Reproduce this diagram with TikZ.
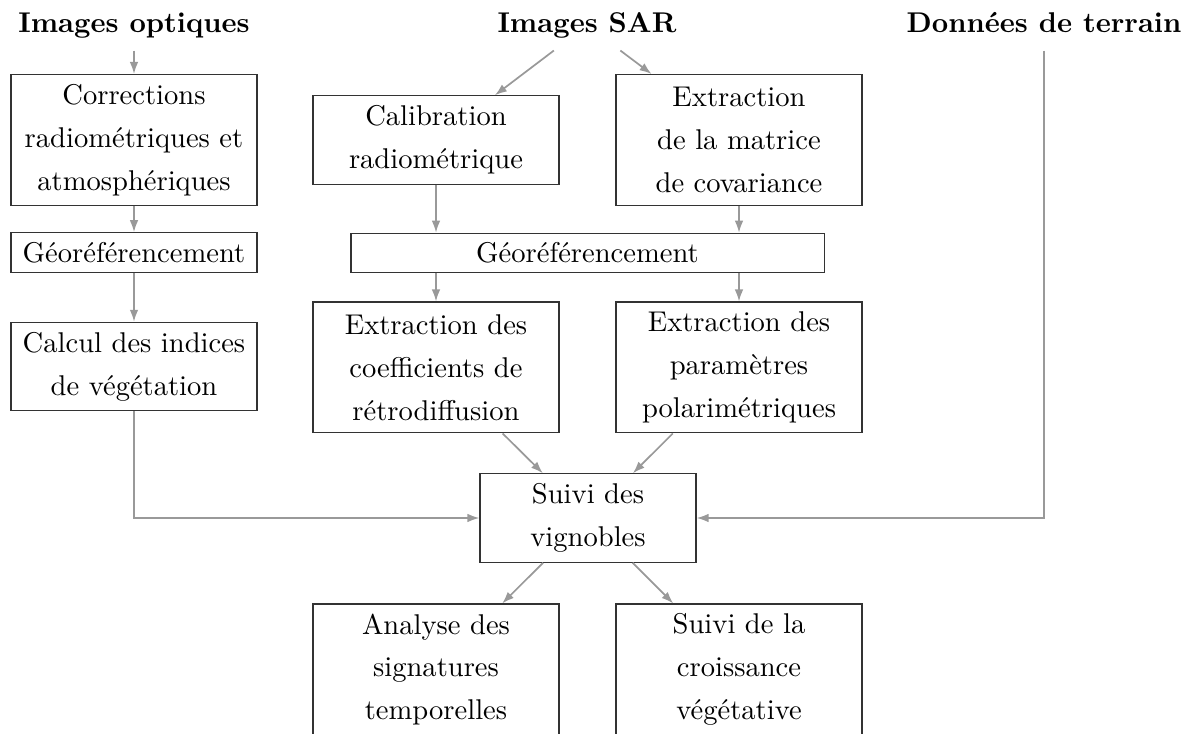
\documentclass[tikz,border=0pt]{standalone}
\usetikzlibrary{arrows.meta}
\definecolor{arrowgray}{gray}{0.6}
\definecolor{boxgray}{gray}{0.2}
\begin{document}
\begin{tikzpicture}[x=0.35pt,y=-0.35pt,
  font=\fontsize{10}{15}\selectfont,
  box/.style={draw=boxgray, line width=0.4pt, align=center, minimum width=86.1pt, inner sep=1pt},
  one/.style={minimum height=13.8pt},
  two/.style={minimum height=30.9pt},
  three/.style={minimum height=45.8pt},
  title/.style={font=\fontsize{10}{15}\selectfont\bfseries, text height=7pt, text depth=2pt, inner xsep=0pt, inner ysep=4.1pt},
  arr/.style={draw=arrowgray, line width=0.6pt, -{Latex[length=4.2pt,width=3pt]}},
]
\useasboundingbox (0,0) rectangle (1189,734);
\node[title] (opt) at (134,25.4) {Images optiques};
\node[title] (sar) at (587,25.4) {Images SAR};
\node[title] (ter) at (1044,25.4) {Données de terrain};
\node[box,three] (corr) at (134,140) {Corrections\\radiométriques et\\atmosphériques};
\node[box,one] (geol) at (134,252.5) {Géoréférencement};
\node[box,two] (calc) at (134,366.5) {Calcul des indices\\de végétation};
\node[box,two] (calib) at (436,140) {Calibration\\radiométrique};
\node[box,three] (mat) at (739,140) {Extraction\\de la matrice\\de covariance};
\node[box,one,minimum width=165.6pt] (geos) at (587.5,253) {Géoréférencement};
\node[box,three] (coef) at (436,367.5) {Extraction des\\coefficients de\\rétrodiffusion};
\node[box,three] (par) at (739,367.5) {Extraction des\\paramètres\\polarimétriques};
\node[box,two,minimum width=75.6pt] (suivi) at (588,518) {Suivi des\\vignobles};
\node[box,three] (ana) at (436,669.5) {Analyse des\\signatures\\temporelles};
\node[box,three] (cro) at (739,669.5) {Suivi de la\\croissance\\végétative};
\draw[arr] (opt) -- (corr);
\draw[arr] (corr) -- (geol);
\draw[arr] (geol) -- (calc);
\draw[arr] (sar) -- (calib);
\draw[arr] (sar) -- (mat);
\draw[arr] (calib) -- (calib |- geos.north);
\draw[arr] (mat) -- (mat |- geos.north);
\draw[arr] (geos.south -| coef) -- (coef);
\draw[arr] (geos.south -| par) -- (par);
\draw[arr] (coef) -- (suivi);
\draw[arr] (par) -- (suivi);
\draw[arr] (calc) |- (suivi);
\draw[arr] (ter) |- (suivi);
\draw[arr] (suivi) -- (ana);
\draw[arr] (suivi) -- (cro);
\end{tikzpicture}
\end{document}
